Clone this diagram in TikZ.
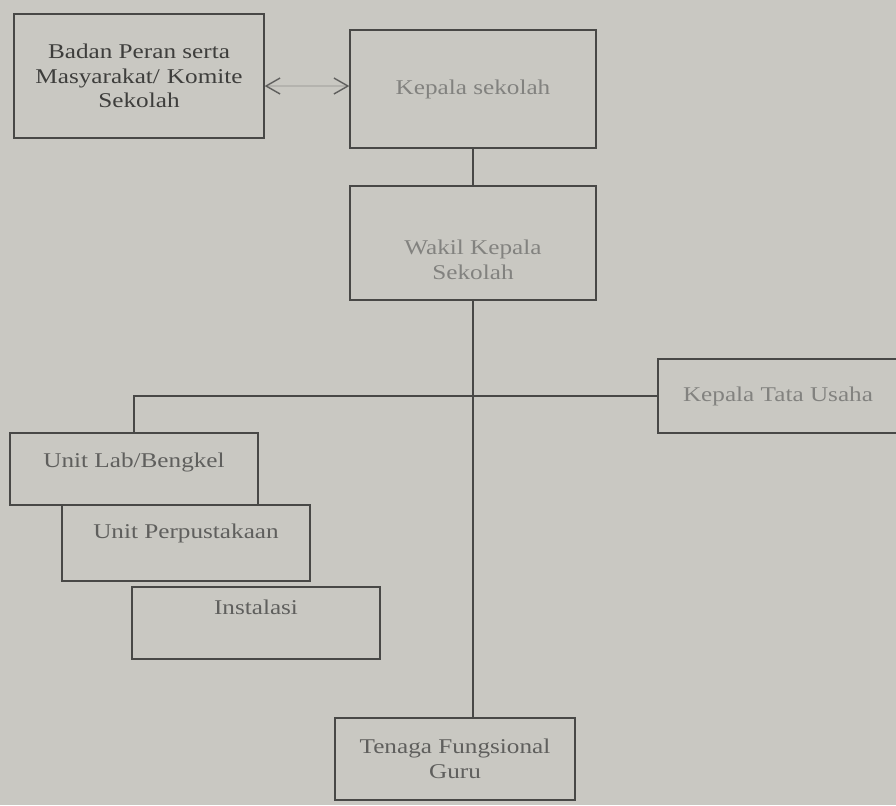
\documentclass[tikz,border=0pt]{standalone}
\usepackage{fontspec}
\setmainfont{Liberation Serif}[FakeStretch=1.2]
\usepackage{tikz}
\usetikzlibrary{positioning,arrows.meta,calc}

\definecolor{paper}{RGB}{201,200,194}
\definecolor{inkline}{RGB}{72,72,70}
\definecolor{inkdark}{RGB}{62,62,60}
\definecolor{inkmid}{RGB}{95,95,93}
\definecolor{inkpale}{RGB}{130,130,127}
\definecolor{inkfaint}{RGB}{180,179,174}

\begin{document}
\begin{tikzpicture}[x=0.5pt,y=-0.5pt,
  orgbox/.style={draw=inkline,line width=0.7pt,align=center,inner sep=2pt,
    font=\fontsize{10.5}{12.3}\selectfont},
  link/.style={draw=inkline,line width=0.7pt},
  barb/.tip={Straight Barb[length=7pt,width=8pt,color=inkmid]}]
\clip (0,0) rectangle (896,805);
\fill[paper] (0,0) rectangle (896,805);
% top row
\node[orgbox,text=inkdark,minimum width=125pt,minimum height=62pt] (badan) at (139,76) {Badan Peran serta\\Masyarakat/\,\,Komite\\Sekolah};
\node[orgbox,text=inkpale,minimum width=123pt,minimum height=59pt] (kepsek) at (473,89) {Kepala sekolah};
\node[orgbox,text=inkpale,minimum width=123pt,minimum height=57pt] (wakil) at (473,243) {\rule{0pt}{24pt}Wakil Kepala\\Sekolah};
% staff and units
\node[orgbox,text=inkpale,minimum width=120pt,minimum height=37pt] (ktu) at (778,396) {Kepala Tata Usaha};
\node[orgbox,text=inkmid,minimum width=124pt,minimum height=36pt,text depth=9pt] (lab) at (134,469) {Unit Lab/Bengkel};
\node[orgbox,text=inkmid,minimum width=124pt,minimum height=38pt,text depth=12pt] (perpus) at (186,543) {Unit Perpustakaan};
\node[orgbox,text=inkmid,minimum width=124pt,minimum height=36pt,text depth=16pt] (instal) at (256,623) {Instalasi};
\node[orgbox,text=inkmid,minimum width=120pt,minimum height=41pt] (guru) at (455,759) {Tenaga Fungsional\\Guru};
% connectors
\draw[link,draw=inkfaint,barb-barb] ([yshift=-5pt]badan.east) -- ([yshift=-5pt]badan.east -| kepsek.west);
\draw[link] (kepsek.south) -- (wakil.north);
\draw[link] (wakil.south) -- (wakil.south |- guru.north);
\draw[link] (lab.north) |- (ktu.west);
\end{tikzpicture}
\end{document}
